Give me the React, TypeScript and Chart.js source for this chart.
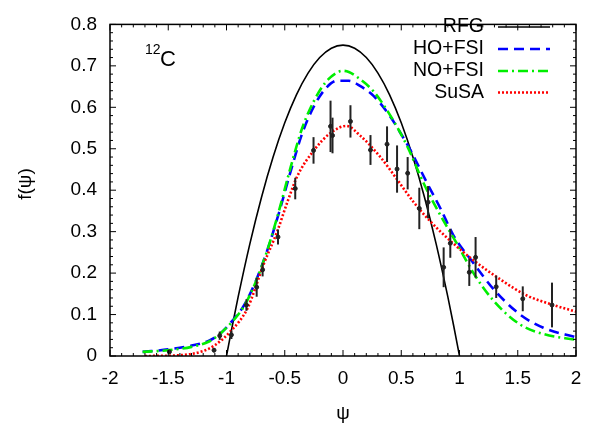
import React, { useEffect, useRef } from "react";
import { Chart, registerables } from "chart.js";

Chart.register(...registerables);

// ---- tick labels ----
const xTickValues = [-2, -1.5, -1, -0.5, 0, 0.5, 1, 1.5, 2];
const xTickLabels = ["-2", "-1.5", "-1", "-0.5", "0", "0.5", "1", "1.5", "2"];
const yTickValues = [0, 0.1, 0.2, 0.3, 0.4, 0.5, 0.6, 0.7, 0.8];
const yTickLabels = ["0", "0.1", "0.2", "0.3", "0.4", "0.5", "0.6", "0.7", "0.8"];

// ---- RFG ----
const rfgPsi = [-1, -0.95, -0.9, -0.8, -0.7, -0.6, -0.5, -0.4, -0.3, -0.2, -0.1, 0, 0.1, 0.2, 0.3, 0.4, 0.5, 0.6, 0.7, 0.8, 0.9, 0.95, 1];
const rfgF = [0, 0.073, 0.1425, 0.27, 0.3825, 0.48, 0.5625, 0.63, 0.6825, 0.72, 0.7425, 0.75, 0.7425, 0.72, 0.6825, 0.63, 0.5625, 0.48, 0.3825, 0.27, 0.1425, 0.073, 0];

// ---- HO+FSI ----
const hoPsi = [-1.72, -1.5, -1.3, -1.15, -1.05, -0.95, -0.85, -0.75, -0.65, -0.55, -0.45, -0.35, -0.25, -0.15, -0.05, 0.05, 0.15, 0.26, 0.4, 0.5, 0.58, 0.72, 0.84, 0.95, 1.12, 1.29, 1.52, 1.72, 2.0];
const hoF = [0.01, 0.016, 0.025, 0.037, 0.055, 0.085, 0.122, 0.18, 0.255, 0.345, 0.445, 0.537, 0.602, 0.645, 0.664, 0.664, 0.651, 0.628, 0.58, 0.535, 0.496, 0.418, 0.354, 0.29, 0.224, 0.162, 0.1, 0.068, 0.045];

// ---- NO+FSI ----
const noPsi = [-1.72, -1.5, -1.3, -1.15, -1.05, -0.95, -0.85, -0.75, -0.65, -0.55, -0.45, -0.35, -0.25, -0.15, -0.05, 0, 0.05, 0.15, 0.26, 0.4, 0.55, 0.69, 0.835, 0.98, 1.12, 1.29, 1.52, 1.72, 2.0];
const noF = [0.01, 0.014, 0.022, 0.035, 0.055, 0.083, 0.12, 0.178, 0.255, 0.35, 0.455, 0.55, 0.615, 0.66, 0.684, 0.688, 0.685, 0.667, 0.639, 0.583, 0.507, 0.418, 0.34, 0.27, 0.2, 0.134, 0.076, 0.053, 0.039];

// ---- SuSA ----
const susaPsi = [-1.7, -1.4, -1.2, -1.1, -0.96, -0.82, -0.68, -0.564, -0.478, -0.392, -0.25, -0.107, 0.03, 0.15, 0.321, 0.464, 0.607, 0.749, 0.921, 1.12, 1.349, 1.578, 1.806, 2.0];
const susaF = [0.0, 0.002, 0.012, 0.026, 0.061, 0.115, 0.222, 0.301, 0.371, 0.434, 0.496, 0.538, 0.555, 0.531, 0.48, 0.426, 0.371, 0.325, 0.278, 0.231, 0.185, 0.146, 0.123, 0.107];

// ---- data (psi, f, error) ----
const dataPsi = [-1.49, -1.107, -1.058, -0.958, -0.829, -0.741, -0.69, -0.558, -0.41, -0.253, -0.107, -0.09, 0.064, 0.236, 0.378, 0.464, 0.555, 0.655, 0.73, 0.864, 0.921, 1.084, 1.138, 1.315, 1.543, 1.794];
const dataF = [0.01, 0.014, 0.049, 0.051, 0.123, 0.166, 0.208, 0.287, 0.404, 0.496, 0.554, 0.532, 0.566, 0.497, 0.511, 0.451, 0.441, 0.356, 0.371, 0.214, 0.272, 0.202, 0.238, 0.167, 0.138, 0.123];
const dataErr = [0.004, 0.005, 0.01, 0.01, 0.014, 0.023, 0.016, 0.018, 0.026, 0.032, 0.062, 0.043, 0.039, 0.036, 0.043, 0.057, 0.039, 0.05, 0.039, 0.048, 0.035, 0.033, 0.049, 0.027, 0.03, 0.054];

const FONT = '"Liberation Sans", Arial, Helvetica, sans-serif';

const pts = (xs: number[], ys: number[]) => xs.map((x, i) => ({ x, y: ys[i] }));

const legendItems = [
  { label: "RFG", color: "#000000", dash: [] as number[], width: 1.6 },
  { label: "HO+FSI", color: "#0000ff", dash: [10, 6], width: 2.6 },
  { label: "NO+FSI", color: "#00ee00", dash: [10, 4, 2, 4], width: 2.6 },
  { label: "SuSA", color: "#ff0000", dash: [2, 2], width: 2.6 },
];

const decorPlugin = {
  id: "decor",
  afterDatasetsDraw(chart: any) {
    const ctx = chart.ctx;
    const xs = chart.scales.x;
    const ys = chart.scales.y;
    const area = chart.chartArea;
    ctx.save();
    // error bars
    ctx.strokeStyle = "#222";
    ctx.lineWidth = 2;
    for (let i = 0; i < dataPsi.length; i++) {
      const px = xs.getPixelForValue(dataPsi[i]);
      const y1 = ys.getPixelForValue(dataF[i] - dataErr[i]);
      const y2 = ys.getPixelForValue(dataF[i] + dataErr[i]);
      ctx.beginPath();
      ctx.moveTo(px, y1);
      ctx.lineTo(px, y2);
      ctx.stroke();
    }
    // frame
    ctx.strokeStyle = "#000";
    ctx.lineWidth = 1.5;
    ctx.strokeRect(area.left, area.top, area.right - area.left, area.bottom - area.top);
    // ticks
    ctx.lineWidth = 1;
    for (let i = 0; i <= 40; i++) {
      const v = -2 + i * 0.1;
      const px = xs.getPixelForValue(v);
      const len = i % 5 === 0 ? 6 : 3;
      ctx.beginPath();
      ctx.moveTo(px, area.bottom);
      ctx.lineTo(px, area.bottom - len);
      ctx.moveTo(px, area.top);
      ctx.lineTo(px, area.top + len);
      ctx.stroke();
    }
    for (let i = 0; i <= 40; i++) {
      const v = i * 0.02;
      const py = ys.getPixelForValue(v);
      const len = i % 5 === 0 ? 6 : 3;
      ctx.beginPath();
      ctx.moveTo(area.left, py);
      ctx.lineTo(area.left + len, py);
      ctx.moveTo(area.right, py);
      ctx.lineTo(area.right - len, py);
      ctx.stroke();
    }
    // legend
    ctx.font = `19.5px ${FONT}`;
    ctx.textAlign = "right";
    ctx.textBaseline = "middle";
    const rowY = [27, 49, 71, 92.5];
    legendItems.forEach((it, i) => {
      ctx.fillStyle = "#000";
      ctx.fillText(it.label, 484, rowY[i]);
      ctx.strokeStyle = it.color;
      ctx.lineWidth = it.width;
      ctx.setLineDash(it.dash);
      ctx.beginPath();
      ctx.moveTo(498, rowY[i]);
      ctx.lineTo(550, rowY[i]);
      ctx.stroke();
      ctx.setLineDash([]);
    });
    // 12C label
    ctx.fillStyle = "#000";
    ctx.textAlign = "left";
    ctx.textBaseline = "alphabetic";
    ctx.font = `14px ${FONT}`;
    ctx.fillText("12", 145, 53.5);
    ctx.font = `22px ${FONT}`;
    ctx.fillText("C", 160, 65.5);
    // axis titles
    ctx.font = `19px ${FONT}`;
    ctx.textAlign = "center";
    ctx.textBaseline = "middle";
    ctx.fillText("ψ", 343, 414);
    ctx.save();
    ctx.translate(26, 184);
    ctx.rotate(-Math.PI / 2);
    ctx.fillText("f(ψ)", 0, 0);
    ctx.restore();
    ctx.restore();
  },
};

function nearestLabel(v: number, vals: number[], labels: string[]) {
  let best = 0;
  for (let i = 1; i < vals.length; i++) {
    if (Math.abs(vals[i] - v) < Math.abs(vals[best] - v)) best = i;
  }
  return labels[best];
}

export default function App() {
  const ref = useRef<HTMLCanvasElement | null>(null);
  useEffect(() => {
    if (!ref.current) return;
    const chart = new Chart(ref.current, {
      type: "scatter",
      data: {
        datasets: [
          {
            label: "data",
            data: pts(dataPsi, dataF),
            backgroundColor: "#222",
            borderColor: "#222",
            pointRadius: 2,
            showLine: false,
            order: 0,
          },
          {
            label: "SuSA",
            data: pts(susaPsi, susaF),
            showLine: true,
            borderColor: "#ff0000",
            borderWidth: 2.6,
            borderDash: [2, 2],
            pointRadius: 0,
            cubicInterpolationMode: "monotone",
            order: 1,
          },
          {
            label: "NO+FSI",
            data: pts(noPsi, noF),
            showLine: true,
            borderColor: "#00ee00",
            borderWidth: 2.6,
            borderDash: [10, 4, 2, 4],
            pointRadius: 0,
            cubicInterpolationMode: "monotone",
            order: 2,
          },
          {
            label: "HO+FSI",
            data: pts(hoPsi, hoF),
            showLine: true,
            borderColor: "#0000ff",
            borderWidth: 2.6,
            borderDash: [10, 6],
            pointRadius: 0,
            cubicInterpolationMode: "monotone",
            order: 3,
          },
          {
            label: "RFG",
            data: pts(rfgPsi, rfgF),
            showLine: true,
            borderColor: "#000000",
            borderWidth: 1.6,
            pointRadius: 0,
            cubicInterpolationMode: "monotone",
            order: 4,
          },
        ],
      } as any,
      options: {
        animation: false,
        responsive: false,
        events: [],
        layout: { padding: { left: 0, top: 12, right: 19, bottom: 0 } },
        plugins: { legend: { display: false }, tooltip: { enabled: false } },
        scales: {
          x: {
            type: "linear",
            min: -2,
            max: 2,
            grid: { display: false, drawTicks: false },
            border: { display: false },
            ticks: {
              stepSize: 0.5,
              padding: 11,
              color: "#000",
              font: { family: FONT, size: 19 },
              callback: (v: any) => nearestLabel(Number(v), xTickValues, xTickLabels),
            },
            afterFit: (s: any) => {
              s.height = 69;
            },
          },
          y: {
            type: "linear",
            min: 0,
            max: 0.8,
            grid: { display: false, drawTicks: false },
            border: { display: false },
            ticks: {
              stepSize: 0.1,
              padding: 13,
              color: "#000",
              font: { family: FONT, size: 19 },
              callback: (v: any) => nearestLabel(Number(v), yTickValues, yTickLabels),
            },
            afterFit: (s: any) => {
              s.width = 110;
            },
          },
        },
      } as any,
      plugins: [decorPlugin],
    });
    return () => chart.destroy();
  }, []);
  return (
    <div style={{ position: "absolute", left: 0, top: 0, width: 595, height: 425, background: "#fff" }}>
      <canvas ref={ref} width={595} height={425} />
    </div>
  );
}
